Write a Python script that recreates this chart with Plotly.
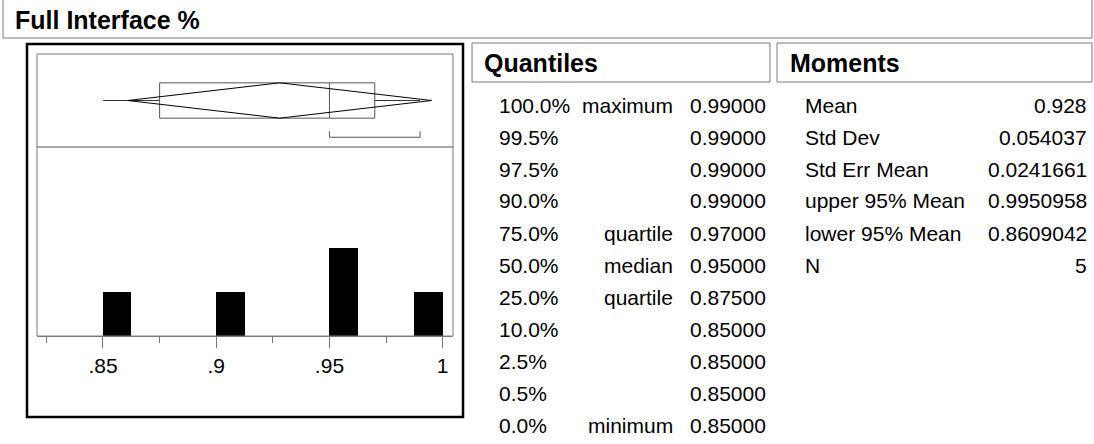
import plotly.graph_objects as go

W, H = 1094, 444

# ---------------- data ----------------
bin_left = [0.85, 0.90, 0.95, 0.9875]
bin_counts = [1, 1, 2, 1]
bin_width = 0.0125

quantile_pcts = ["100.0%", "99.5%", "97.5%", "90.0%", "75.0%", "50.0%",
                 "25.0%", "10.0%", "2.5%", "0.5%", "0.0%"]
quantile_names = ["maximum", "", "", "", "quartile", "median",
                  "quartile", "", "", "", "minimum"]
quantile_vals = [0.99, 0.99, 0.99, 0.99, 0.97, 0.95,
                 0.875, 0.85, 0.85, 0.85, 0.85]

moment_names = ["Mean", "Std Dev", "Std Err Mean", "upper 95% Mean",
                "lower 95% Mean", "N"]
moment_vals = [0.928, 0.054037, 0.0241661, 0.9950958, 0.8609042, 5]

shortest_half = [0.95, 0.99]

tick_vals = [0.85, 0.90, 0.95, 1.0]
tick_text = [".85", ".9", ".95", "1"]
minor_vals = [0.825, 0.875, 0.925, 0.975]

q_max = quantile_vals[0]
q3 = quantile_vals[4]
q_med = quantile_vals[5]
q1 = quantile_vals[6]
q_min = quantile_vals[10]
mean = moment_vals[0]
upper_ci = moment_vals[3]
lower_ci = moment_vals[4]

FONT = "Arial, 'Liberation Sans', Helvetica, sans-serif"
GREY = "#7a7a7a"


def px(x):
    return x / W


def py(y):
    return 1 - y / H


fig = go.Figure()

# histogram bars
fig.add_trace(go.Bar(
    x=bin_left, y=bin_counts, width=[bin_width] * len(bin_left), offset=0,
    marker=dict(color="black", line=dict(width=0)),
    xaxis="x", yaxis="y", hoverinfo="skip", showlegend=False))

# box plot panel (yaxis2, 0..1)
yc = 0.5
bh = 0.19
# whiskers
fig.add_trace(go.Scatter(x=[q_min, q1, None, q3, q_max], y=[yc, yc, None, yc, yc],
                         mode="lines", line=dict(color="#333333", width=1),
                         xaxis="x", yaxis="y2", hoverinfo="skip", showlegend=False))
# box and median
fig.add_trace(go.Scatter(x=[q1, q3, q3, q1, q1, None, q_med, q_med],
                         y=[yc - bh, yc - bh, yc + bh, yc + bh, yc - bh, None, yc - bh, yc + bh],
                         mode="lines", line=dict(color="#555555", width=1),
                         xaxis="x", yaxis="y2", hoverinfo="skip", showlegend=False))
# means diamond
fig.add_trace(go.Scatter(x=[lower_ci, mean, upper_ci, mean, lower_ci],
                         y=[yc, yc + bh, yc, yc - bh, yc],
                         mode="lines", line=dict(color="black", width=1),
                         xaxis="x", yaxis="y2", hoverinfo="skip", showlegend=False))
# shortest half bracket
fig.add_trace(go.Scatter(x=[shortest_half[0], shortest_half[0], shortest_half[1], shortest_half[1]],
                         y=[0.17, 0.105, 0.105, 0.17],
                         mode="lines", line=dict(color="#555555", width=1),
                         xaxis="x", yaxis="y2", hoverinfo="skip", showlegend=False))

xd0, xd1 = px(37), px(453)
y_axis_px, y_div_px, y_top_px = 336, 147, 54

shapes = []
# header band
shapes.append(dict(type="rect", xref="paper", yref="paper", x0=px(3), x1=px(1092),
                   y0=py(38), y1=py(-5), line=dict(color=GREY, width=1)))
# Quantiles / Moments header boxes
shapes.append(dict(type="rect", xref="paper", yref="paper", x0=px(472), x1=px(770),
                   y0=py(82), y1=py(43), line=dict(color=GREY, width=1)))
shapes.append(dict(type="rect", xref="paper", yref="paper", x0=px(777), x1=px(1092),
                   y0=py(82), y1=py(43), line=dict(color=GREY, width=1)))
# outer thick frame
shapes.append(dict(type="rect", xref="paper", yref="paper", x0=px(27), x1=px(463),
                   y0=py(417), y1=py(44), line=dict(color="black", width=2.5)))
# inner plot frame (top, left, right) and divider
shapes.append(dict(type="rect", xref="paper", yref="paper", x0=xd0, x1=xd1,
                   y0=py(y_axis_px), y1=py(y_top_px), line=dict(color=GREY, width=1)))
shapes.append(dict(type="line", xref="paper", yref="paper", x0=xd0, x1=xd1,
                   y0=py(y_div_px), y1=py(y_div_px), line=dict(color="#555555", width=1)))

annotations = []
hf = dict(size=25, color="black", family=FONT)
annotations.append(dict(text="<b>Full Interface %</b>", x=px(13), y=py(20), xref="paper", yref="paper",
                        xanchor="left", yanchor="middle", showarrow=False, font=hf))
annotations.append(dict(text="<b>Quantiles</b>", x=px(482), y=py(63), xref="paper", yref="paper",
                        xanchor="left", yanchor="middle", showarrow=False, font=hf))
annotations.append(dict(text="<b>Moments</b>", x=px(788), y=py(63), xref="paper", yref="paper",
                        xanchor="left", yanchor="middle", showarrow=False, font=hf))

row0, drow = 105, 32
tf = dict(size=21, color="black", family=FONT)
for i, (p, n, v) in enumerate(zip(quantile_pcts, quantile_names, quantile_vals)):
    yy = py(row0 + drow * i)
    annotations.append(dict(text=p, x=px(497), y=yy, xref="paper", yref="paper",
                            xanchor="left", yanchor="middle", showarrow=False, font=tf))
    if n:
        annotations.append(dict(text=n, x=px(675), y=yy, xref="paper", yref="paper",
                                xanchor="right", yanchor="middle", showarrow=False, font=tf))
    annotations.append(dict(text=f"{v:.5f}", x=px(768), y=yy, xref="paper", yref="paper",
                            xanchor="right", yanchor="middle", showarrow=False, font=tf))

for i, (n, v) in enumerate(zip(moment_names, moment_vals)):
    yy = py(row0 + drow * i)
    annotations.append(dict(text=n, x=px(803), y=yy, xref="paper", yref="paper",
                            xanchor="left", yanchor="middle", showarrow=False, font=tf))
    annotations.append(dict(text=str(v), x=px(1089), y=yy, xref="paper", yref="paper",
                            xanchor="right", yanchor="middle", showarrow=False, font=tf))

fig.update_layout(
    width=W, height=H,
    margin=dict(l=0, r=0, t=0, b=0),
    paper_bgcolor="white", plot_bgcolor="white",
    bargap=0,
    shapes=shapes,
    annotations=annotations,
    xaxis=dict(domain=[xd0, xd1], range=[0.82086, 1.00455], showgrid=False, zeroline=False,
               showline=True, linecolor=GREY, linewidth=1,
               ticks="outside", ticklen=11, tickcolor=GREY, tickwidth=1,
               tickvals=tick_vals, ticktext=tick_text, ticklabelstandoff=0,
               tickfont=dict(size=21, color="black", family=FONT),
               minor=dict(tickvals=minor_vals, ticks="outside", ticklen=6,
                          tickcolor=GREY, tickwidth=1, showgrid=False),
               anchor="y", fixedrange=True),
    yaxis=dict(domain=[py(y_axis_px), py(y_div_px)], range=[0, 4.3], visible=False,
               showgrid=False, zeroline=False, fixedrange=True),
    yaxis2=dict(domain=[py(y_div_px), py(y_top_px)], range=[0, 1], visible=False,
                showgrid=False, zeroline=False, fixedrange=True),
)

fig.write_html("out.html", config={"displayModeBar": False},
               post_script="document.body.style.margin='0';document.body.style.overflow='hidden';")
